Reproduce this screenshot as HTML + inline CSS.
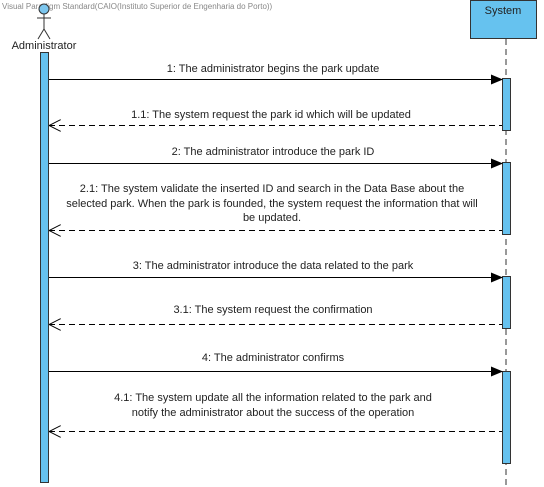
<!DOCTYPE html>
<html><head><style>
html,body{margin:0;padding:0;background:#fff;}
svg{display:block;}
text{font-family:"Liberation Sans",Arial,sans-serif;font-size:11px;fill:#222;}
</style></head><body>
<svg width="544" height="487" viewBox="0 0 544 487">
<defs>
<marker id="f" markerWidth="12" markerHeight="10" refX="11" refY="5" orient="auto" markerUnits="userSpaceOnUse"><path d="M0,0 L12,5 L0,10 Z" fill="#000"/></marker>
<marker id="o" markerWidth="12" markerHeight="12" refX="0" refY="6" orient="auto" markerUnits="userSpaceOnUse"><path d="M12,0 L0,6 L12,12" fill="none" stroke="#000" stroke-width="1"/></marker>
</defs>
<text x="2" y="9" style="font-size:8px;fill:#888">Visual Paradigm Standard(CAIO(Instituto Superior de Engenharia do Porto))</text>
<circle cx="44" cy="9" r="5" fill="#7cc6ee" stroke="#333"/>
<line x1="44" y1="14" x2="44" y2="29" stroke="#333"/>
<line x1="37" y1="18" x2="51" y2="18" stroke="#333"/>
<line x1="44" y1="29" x2="38" y2="39" stroke="#333"/>
<line x1="44" y1="29" x2="50" y2="39" stroke="#333"/>
<text x="44" y="49" text-anchor="middle" style="font-size:11px">Administrator</text>
<rect x="40.5" y="52.5" width="8" height="430" fill="#66c2ef" stroke="#333"/>
<rect x="470.5" y="0.5" width="66" height="38" fill="#66c2ef" stroke="#333"/>
<text x="503" y="14" text-anchor="middle" style="font-size:11px">System</text>
<line x1="506" y1="39" x2="506" y2="487" stroke="#333" stroke-dasharray="6,4"/>
<rect x="502.5" y="78.5" width="8" height="52" fill="#66c2ef" stroke="#333"/>
<rect x="502.5" y="162.5" width="8" height="72" fill="#66c2ef" stroke="#333"/>
<rect x="502.5" y="276.5" width="8" height="52" fill="#66c2ef" stroke="#333"/>
<rect x="502.5" y="371.5" width="8" height="92" fill="#66c2ef" stroke="#333"/>
<g stroke="#000" stroke-width="1">
<line x1="49" y1="79.5" x2="502" y2="79.5" marker-end="url(#f)"/>
<line x1="49" y1="125.5" x2="502" y2="125.5" stroke-dasharray="6,4" marker-start="url(#o)"/>
<line x1="49" y1="163.5" x2="502" y2="163.5" marker-end="url(#f)"/>
<line x1="49" y1="230.5" x2="502" y2="230.5" stroke-dasharray="6,4" marker-start="url(#o)"/>
<line x1="49" y1="277.5" x2="502" y2="277.5" marker-end="url(#f)"/>
<line x1="49" y1="324.5" x2="502" y2="324.5" stroke-dasharray="6,4" marker-start="url(#o)"/>
<line x1="49" y1="371.5" x2="502" y2="371.5" marker-end="url(#f)"/>
<line x1="49" y1="431.5" x2="502" y2="431.5" stroke-dasharray="6,4" marker-start="url(#o)"/>
</g>
<g text-anchor="middle">
<text x="273" y="72">1: The administrator begins the park update</text>
<text x="271" y="118">1.1: The system request the park id which will be updated</text>
<text x="273" y="155">2: The administrator introduce the park ID</text>
<text x="272" y="192">2.1: The system validate  the inserted ID and search in the Data Base about the</text>
<text x="272" y="207">selected park. When the park is founded, the system request the information that will</text>
<text x="272" y="221">be updated.</text>
<text x="273" y="269">3: The administrator introduce the data related to the park</text>
<text x="273" y="313">3.1: The system request the confirmation</text>
<text x="273" y="361">4: The administrator confirms</text>
<text x="273" y="401">4.1: The system update all the information related to the park and</text>
<text x="273" y="416">notify the administrator about the success of the operation</text>
</g>
</svg>
</body></html>
